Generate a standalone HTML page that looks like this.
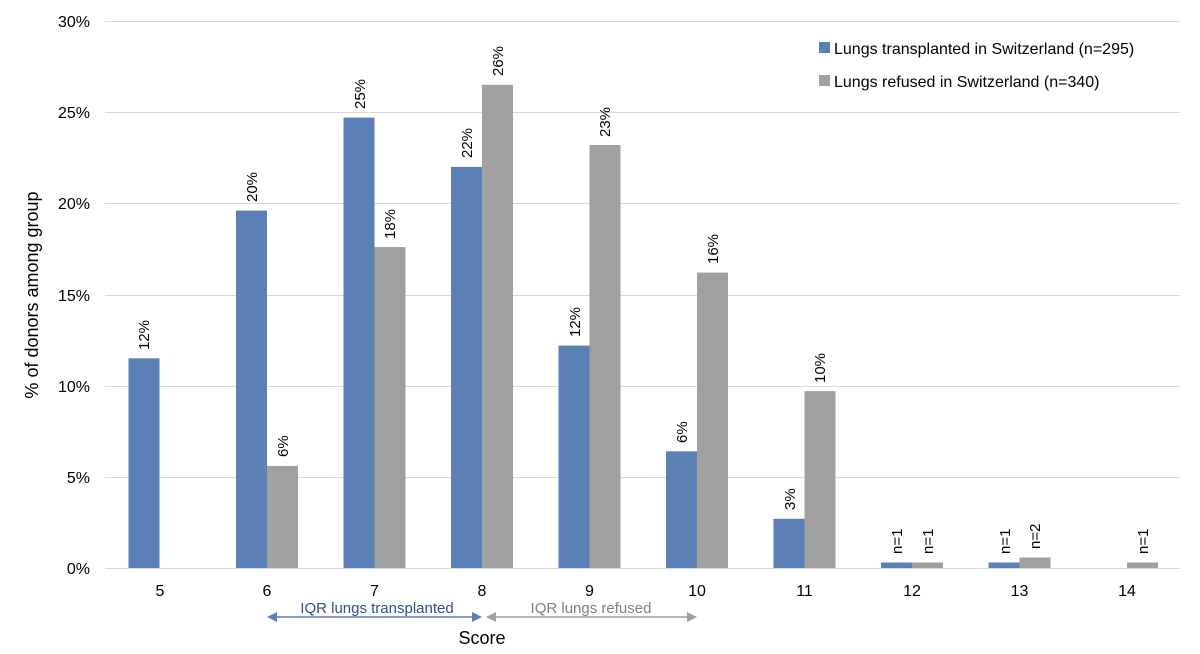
<!DOCTYPE html>
<html><head><meta charset="utf-8"><style>body{margin:0;background:#fff}svg{display:block;font-family:"Liberation Sans",sans-serif}</style></head><body>
<svg width="1200" height="654" viewBox="0 0 1200 654" xmlns="http://www.w3.org/2000/svg">
<g stroke="#d9d9d9" stroke-width="1">
<line x1="105" x2="1180" y1="21.5" y2="21.5"/><line x1="105" x2="1180" y1="112.5" y2="112.5"/><line x1="105" x2="1180" y1="203.5" y2="203.5"/><line x1="105" x2="1180" y1="295.5" y2="295.5"/><line x1="105" x2="1180" y1="386.5" y2="386.5"/><line x1="105" x2="1180" y1="477.5" y2="477.5"/><line x1="105" x2="1180" y1="568.5" y2="568.5"/>
</g>
<g font-size="16" fill="#000" text-anchor="end">
<text x="90" y="27">30%</text><text x="90" y="118">25%</text><text x="90" y="209">20%</text><text x="90" y="301">15%</text><text x="90" y="392">10%</text><text x="90" y="483">5%</text><text x="90" y="574">0%</text>
</g>
<g fill="#5b80b6">
<rect x="128.5" y="358.3" width="31" height="209.7"/>
<rect x="236" y="210.6" width="31" height="357.4"/>
<rect x="343.5" y="117.6" width="31" height="450.4"/>
<rect x="451" y="166.9" width="31" height="401.1"/>
<rect x="558.5" y="345.6" width="31" height="222.4"/>
<rect x="666" y="451.3" width="31" height="116.7"/>
<rect x="773.5" y="518.8" width="31" height="49.2"/>
<rect x="881" y="562.5" width="31" height="5.5"/>
<rect x="988.5" y="562.5" width="31" height="5.5"/>
</g>
<g fill="#a0a0a0">
<rect x="267" y="465.9" width="31" height="102.1"/>
<rect x="374.5" y="247.1" width="31" height="320.9"/>
<rect x="482" y="84.8" width="31" height="483.2"/>
<rect x="589.5" y="145" width="31" height="423"/>
<rect x="697" y="272.6" width="31" height="295.4"/>
<rect x="804.5" y="391.1" width="31" height="176.9"/>
<rect x="912" y="562.5" width="31" height="5.5"/>
<rect x="1019.5" y="557.5" width="31" height="10.5"/>
<rect x="1127" y="562.5" width="31" height="5.5"/>
</g>
<g font-size="15" fill="#000">
<text transform="translate(149,350) rotate(-90)">12%</text>
<text transform="translate(257,202) rotate(-90)">20%</text>
<text transform="translate(365,109) rotate(-90)">25%</text>
<text transform="translate(472,158) rotate(-90)">22%</text>
<text transform="translate(580,337) rotate(-90)">12%</text>
<text transform="translate(687,443) rotate(-90)">6%</text>
<text transform="translate(795,510) rotate(-90)">3%</text>
<text transform="translate(902,554) rotate(-90)">n=1</text>
<text transform="translate(1010,554) rotate(-90)">n=1</text>
<text transform="translate(288,457) rotate(-90)">6%</text>
<text transform="translate(395,239) rotate(-90)">18%</text>
<text transform="translate(503,76) rotate(-90)">26%</text>
<text transform="translate(610,137) rotate(-90)">23%</text>
<text transform="translate(718,264) rotate(-90)">16%</text>
<text transform="translate(825,383) rotate(-90)">10%</text>
<text transform="translate(933,554) rotate(-90)">n=1</text>
<text transform="translate(1040,549) rotate(-90)">n=2</text>
<text transform="translate(1148,554) rotate(-90)">n=1</text>
</g>
<g font-size="16" fill="#000" text-anchor="middle">
<text x="160" y="596">5</text><text x="267" y="596">6</text><text x="374.5" y="596">7</text><text x="482" y="596">8</text><text x="589.5" y="596">9</text><text x="697" y="596">10</text><text x="804.5" y="596">11</text><text x="912" y="596">12</text><text x="1019.5" y="596">13</text><text x="1127" y="596">14</text>
<text x="482" y="644" font-size="18">Score</text>
<text transform="translate(38,295) rotate(-90)" font-size="18">% of donors among group</text>
</g>
<line x1="275" x2="474" y1="617" y2="617" stroke="#5b80b6" stroke-width="1.5"/>
<polygon points="267,617 277,612 277,622" fill="#5b80b6"/><polygon points="482,617 472,612 472,622" fill="#5b80b6"/>
<text x="377" y="613" font-size="15" fill="#2f4f8f" text-anchor="middle">IQR lungs transplanted</text>
<line x1="494" x2="689" y1="617" y2="617" stroke="#a0a0a0" stroke-width="1.5"/>
<polygon points="486,617 496,612 496,622" fill="#a0a0a0"/><polygon points="697,617 687,612 687,622" fill="#a0a0a0"/>
<text x="591" y="613" font-size="15" fill="#808080" text-anchor="middle">IQR lungs refused</text>
<rect x="819" y="42" width="11" height="11" fill="#5b80b6"/>
<rect x="819" y="75" width="11" height="11" fill="#a0a0a0"/>
<text x="834" y="54" font-size="16">Lungs transplanted in Switzerland (n=295)</text>
<text x="834" y="87" font-size="16">Lungs refused in Switzerland (n=340)</text>
</svg>
</body></html>
